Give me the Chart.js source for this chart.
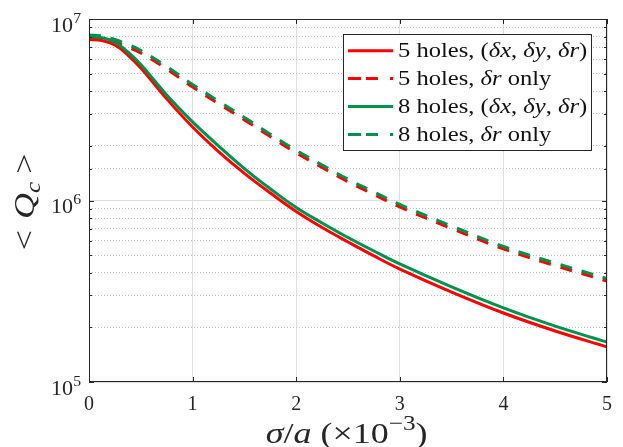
<!DOCTYPE html>
<html>
<head>
<meta charset="utf-8">
<script src="https://cdn.jsdelivr.net/npm/chart.js@4.4.0/dist/chart.umd.min.js"></script>
<style>
  html, body { margin: 0; padding: 0; background: #fff; }
</style>
</head>
<body>
<canvas id="qcChart" width="623" height="447"></canvas>
<script>
// sigma/a (x1e-3)
const sigma = [0, 0.125, 0.25, 0.375, 0.5, 0.75, 1, 1.25, 1.5, 1.75, 2, 2.25, 2.5, 2.75, 3, 3.5, 4, 4.5, 5];

// <Q_c>
const q5Full   = [7.71e6, 7.61e6, 7.19e6, 6.33e6, 5.37e6, 3.63e6, 2.54e6, 1.86e6, 1.41e6, 1.10e6, 8.70e5, 7.10e5, 5.91e5, 4.95e5, 4.19e5, 3.13e5, 2.40e5, 1.91e5, 1.56e5];
const q5Radius = [7.96e6, 7.81e6, 7.47e6, 7.01e6, 6.50e6, 5.30e6, 4.22e6, 3.42e6, 2.78e6, 2.25e6, 1.83e6, 1.52e6, 1.27e6, 1.08e6, 9.21e5, 7.01e5, 5.41e5, 4.38e5, 3.60e5];
const q8Full   = [7.99e6, 7.89e6, 7.47e6, 6.58e6, 5.62e6, 3.81e6, 2.71e6, 2.00e6, 1.50e6, 1.16e6, 9.15e5, 7.52e5, 6.25e5, 5.27e5, 4.47e5, 3.34e5, 2.56e5, 2.03e5, 1.66e5];
const q8Radius = [8.16e6, 8.06e6, 7.71e6, 7.24e6, 6.71e6, 5.47e6, 4.36e6, 3.53e6, 2.87e6, 2.32e6, 1.89e6, 1.57e6, 1.31e6, 1.115e6, 9.51e5, 7.24e5, 5.58e5, 4.52e5, 3.72e5];

const yMajorTicks = [1e5, 1e6, 1e7];

const RED = '#ff0000';
const GREEN = '#00914a';
const SERIF = '"Liberation Serif", "DejaVu Serif", serif';

// tramos de texto con estilo: {t, it (italic), sup, sub, gap}
function runFont(r, size) {
    const s = (r.sup || r.sub) ? Math.round(size * 0.7) : size;
    return (r.it ? 'italic ' : '') + s + 'px ' + SERIF;
}
function runsWidth(ctx, runs, size) {
    let w = 0;
    runs.forEach(r => {
        if (r.gap) { w += r.gap; return; }
        ctx.font = runFont(r, size);
        w += ctx.measureText(r.t).width;
    });
    return w;
}
// k = estiramiento horizontal (Computer Modern es mas ancha que Times)
function drawRuns(ctx, x, y, runs, size, align, k) {
    k = k || 1;
    const w = runsWidth(ctx, runs, size) * k;
    let sx = x;
    if (align === 'center') sx = x - w / 2;
    if (align === 'right') sx = x - w;
    ctx.save();
    ctx.translate(sx, y);
    ctx.scale(k, 1);
    ctx.textBaseline = 'alphabetic';
    ctx.textAlign = 'left';
    let cx = 0;
    runs.forEach(r => {
        if (r.gap) { cx += r.gap / k; return; }
        ctx.font = runFont(r, size);
        let dy = 0;
        if (r.sup) dy = -size * 0.42;
        if (r.sub) dy = size * 0.2;
        ctx.fillText(r.t, cx, dy);
        cx += ctx.measureText(r.t).width;
    });
    ctx.restore();
}

const legendItems = [
    { color: RED, dash: [], runs: [{ t: '5 holes, (' }, { t: 'δx', it: true }, { t: ', ' }, { t: 'δy', it: true }, { t: ', ' }, { t: 'δr', it: true }, { t: ')' }] },
    { color: RED, dash: [13, 5, 12, 12, 3, 100], runs: [{ t: '5 holes, ' }, { t: 'δr', it: true }, { t: ' only' }] },
    { color: GREEN, dash: [], runs: [{ t: '8 holes, (' }, { t: 'δx', it: true }, { t: ', ' }, { t: 'δy', it: true }, { t: ', ' }, { t: 'δr', it: true }, { t: ')' }] },
    { color: GREEN, dash: [13, 5, 12, 12, 3, 100], runs: [{ t: '8 holes, ' }, { t: 'δr', it: true }, { t: ' only' }] }
];

function isMajor(v) {
    const l = Math.log10(v);
    return Math.abs(l - Math.round(l)) < 1e-9;
}

const matlabFrame = {
    id: 'matlabFrame',
    afterDraw(chart) {
        const ctx = chart.ctx;
        const a = chart.chartArea;
        const xs = chart.scales.x;
        const ys = chart.scales.y;
        ctx.save();

        // ticks hacia dentro
        ctx.strokeStyle = '#262626';
        ctx.lineWidth = 1;
        ctx.setLineDash([]);
        ctx.beginPath();
        xs.ticks.forEach(t => {
            const px = Math.round(xs.getPixelForValue(t.value)) + 0.5;
            ctx.moveTo(px, a.bottom); ctx.lineTo(px, a.bottom - 5);
            ctx.moveTo(px, a.top); ctx.lineTo(px, a.top + 5);
        });
        ys.ticks.forEach(t => {
            const py = Math.round(ys.getPixelForValue(t.value)) + 0.5;
            const len = isMajor(t.value) ? 5 : 3;
            ctx.moveTo(a.left, py); ctx.lineTo(a.left + len, py);
            ctx.moveTo(a.right, py); ctx.lineTo(a.right - len, py);
        });
        ctx.stroke();

        // caja
        ctx.strokeRect(Math.round(a.left) + 0.5, Math.round(a.top) + 0.5, Math.round(a.right - a.left) - 1, Math.round(a.bottom - a.top) - 1);

        // etiquetas del eje y
        ctx.fillStyle = '#262626';
        yMajorTicks.forEach(v => {
            const py = ys.getPixelForValue(v);
            const exp = Math.round(Math.log10(v));
            drawRuns(ctx, 81, py + 12.5, [{ t: '10' }, { t: String(exp), sup: true }], 21, 'right', 1.05);
        });

        // titulo eje y
        ctx.save();
        ctx.translate(34, 200);
        ctx.rotate(-Math.PI / 2);
        drawRuns(ctx, 0, 0, [{ t: '<' }, { gap: 11 }, { t: 'Q', it: true }, { t: 'c', it: true, sub: true }, { gap: 8 }, { t: '>' }], 30, 'center', 1.2);
        ctx.restore();

        // titulo eje x
        drawRuns(ctx, 347.5, 443, [{ t: 'σ', it: true }, { t: '/' }, { t: 'a', it: true }, { gap: 9 }, { t: '(×10' }, { t: '−3', sup: true }, { t: ')' }], 30, 'center', 1.2);

        // leyenda
        const lx = 343.5, ly = 34.5, lw = 248, lh = 116;
        ctx.fillStyle = '#fff';
        ctx.fillRect(lx, ly, lw, lh);
        ctx.strokeStyle = '#262626';
        ctx.lineWidth = 1;
        ctx.strokeRect(lx, ly, lw, lh);
        legendItems.forEach((it, i) => {
            const rowY = 50.7 + i * 27.9;
            ctx.strokeStyle = it.color;
            ctx.lineWidth = 3;
            ctx.setLineDash(it.dash);
            ctx.beginPath();
            ctx.moveTo(348, rowY); ctx.lineTo(393, rowY);
            ctx.stroke();
            ctx.setLineDash([]);
            ctx.fillStyle = '#111';
            drawRuns(ctx, 398, rowY + 6.3, it.runs, 21, 'left', 1.17);
        });
        ctx.restore();
    }
};

function makeSet(label, values, color, dash, order) {
    return {
        label: label,
        data: sigma.map((x, i) => ({ x: x, y: values[i] })),
        borderColor: color,
        backgroundColor: color,
        borderWidth: 3,
        borderDash: dash,
        pointRadius: 0,
        fill: false,
        tension: 0.4,
        order: order
    };
}

const chart = new Chart(document.getElementById('qcChart'), {
    type: 'line',
    data: {
        datasets: [
            makeSet('5 holes, (δx, δy, δr)', q5Full, RED, [], 4),
            makeSet('5 holes, δr only', q5Radius, RED, [12, 10], 3),
            makeSet('8 holes, (δx, δy, δr)', q8Full, GREEN, [], 2),
            makeSet('8 holes, δr only', q8Radius, GREEN, [12, 10], 1)
        ]
    },
    options: {
        responsive: false,
        devicePixelRatio: 1,
        animation: false,
        layout: { padding: { left: 0, top: 19, right: 16, bottom: 0 } },
        plugins: {
            legend: { display: false },
            tooltip: { enabled: false }
        },
        scales: {
            x: {
                type: 'linear',
                min: 0,
                max: 5,
                ticks: {
                    stepSize: 1,
                    padding: 11,
                    color: '#262626',
                    font: { family: SERIF, size: 20 },
                    maxRotation: 0
                },
                grid: { color: '#dedede', lineWidth: 1, drawTicks: false },
                border: { display: false },
                afterFit: scale => { scale.height = 65; }
            },
            y: {
                type: 'logarithmic',
                min: 1e5,
                max: 1e7,
                ticks: {
                    autoSkip: false,
                    callback: () => ''
                },
                grid: {
                    drawTicks: false,
                    lineWidth: 1,
                    color: ctx => isMajor(ctx.tick.value) ? '#dedede' : '#c2c2c2'
                },
                border: {
                    display: false,
                    dash: ctx => (ctx.tick && isMajor(ctx.tick.value)) ? [] : [1, 2]
                },
                afterFit: scale => { scale.width = 89; }
            }
        }
    },
    plugins: [matlabFrame]
});
</script>
</body>
</html>
